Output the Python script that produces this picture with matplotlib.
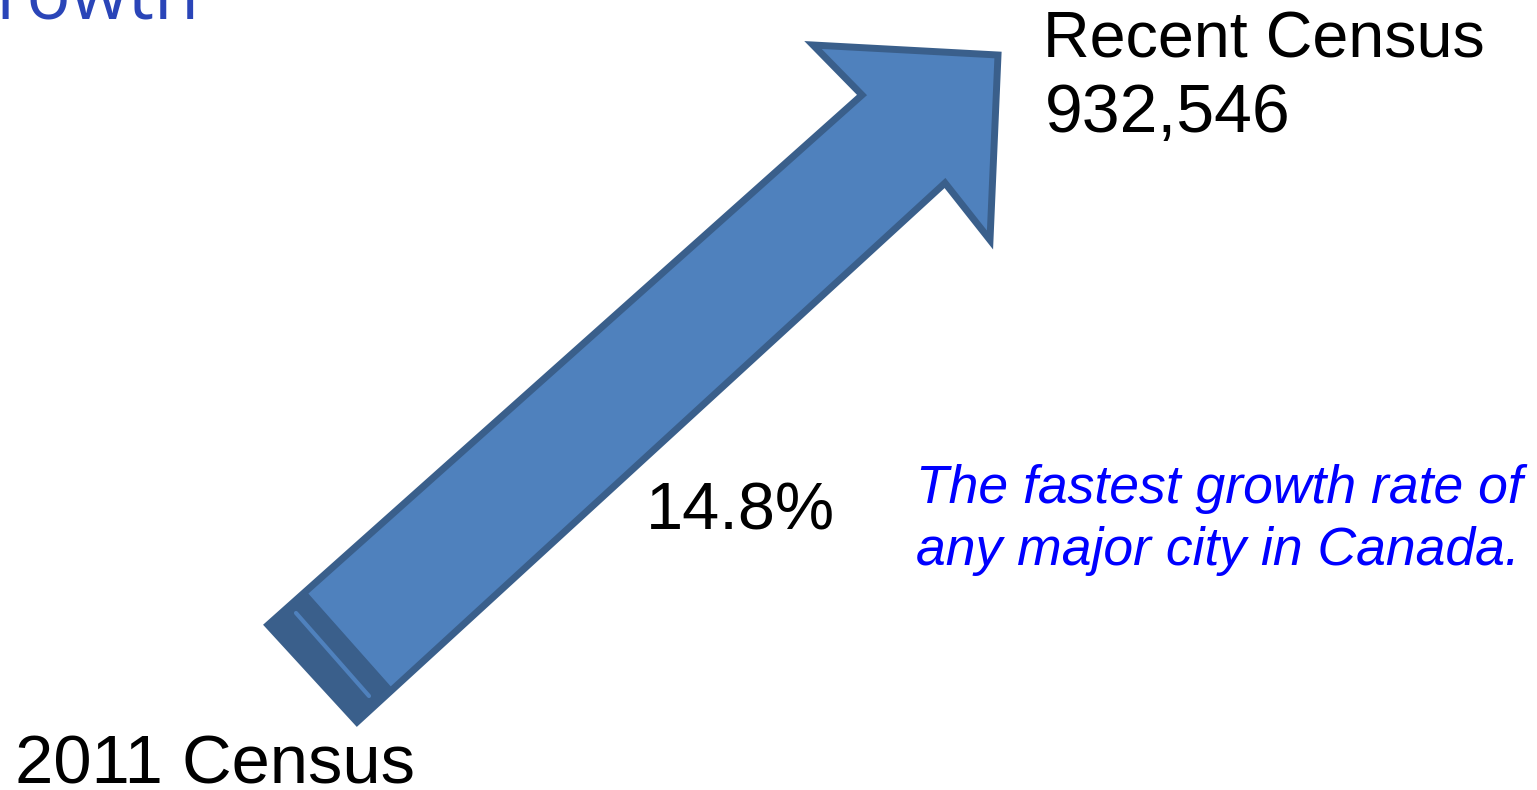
import matplotlib
matplotlib.use("Agg")
import matplotlib.pyplot as plt
from matplotlib.patches import Polygon

# data shown on the slide
census_labels = ["2011 Census", "Recent Census"]
recent_population = 932546
growth_pct = 14.8
note_lines = ["The fastest growth rate of", "any major city in Canada."]
title = "Population Growth"

fill_col = "#4f81bd"
edge_col = "#3a5f8b"

fig = plt.figure(figsize=(15.37, 7.90), dpi=100)
ax = fig.add_axes([0, 0, 1, 1])
ax.set_xlim(0, 1537)
ax.set_ylim(790, 0)
ax.axis("off")

# big arrow (pixel layout of the slide)
arrow = [(268, 625), (862, 95), (813, 45), (998, 55), (990, 240),
         (945, 183), (357, 722)]
ax.add_patch(Polygon(arrow, closed=True, facecolor=fill_col,
                     edgecolor=edge_col, linewidth=5, joinstyle="miter"))

# darker band at the tail with a thin light stripe
band = [(268, 625), (306, 592), (393, 690), (357, 722)]
ax.add_patch(Polygon(band, closed=True, facecolor=edge_col,
                     edgecolor=edge_col, linewidth=1))
ax.plot([296, 369], [613, 696], color=fill_col, linewidth=3,
        solid_capstyle="round")

# texts
ax.text(199, 19, title, ha="right", va="baseline", fontsize=53,
        family="Open Sans", color="#2a45b8")
ax.text(1043, 57, census_labels[1], ha="left", va="baseline", fontsize=46.5,
        family="Liberation Sans", color="black")
ax.text(1045, 132, f"{recent_population:,}", ha="left", va="baseline",
        fontsize=49, family="Liberation Sans", color="black")
ax.text(15, 783, census_labels[0], ha="left", va="baseline", fontsize=49.5,
        family="Liberation Sans", color="black")
ax.text(646, 530, f"{growth_pct}%", ha="left", va="baseline", fontsize=48,
        family="Liberation Sans", color="black")
for i, line in enumerate(note_lines):
    ax.text(916, 503 + i * 62, line, ha="left", va="baseline", fontsize=38.5,
            family="Liberation Sans", style="italic", color="#0000ff")

fig.savefig("out.png", dpi=100)
